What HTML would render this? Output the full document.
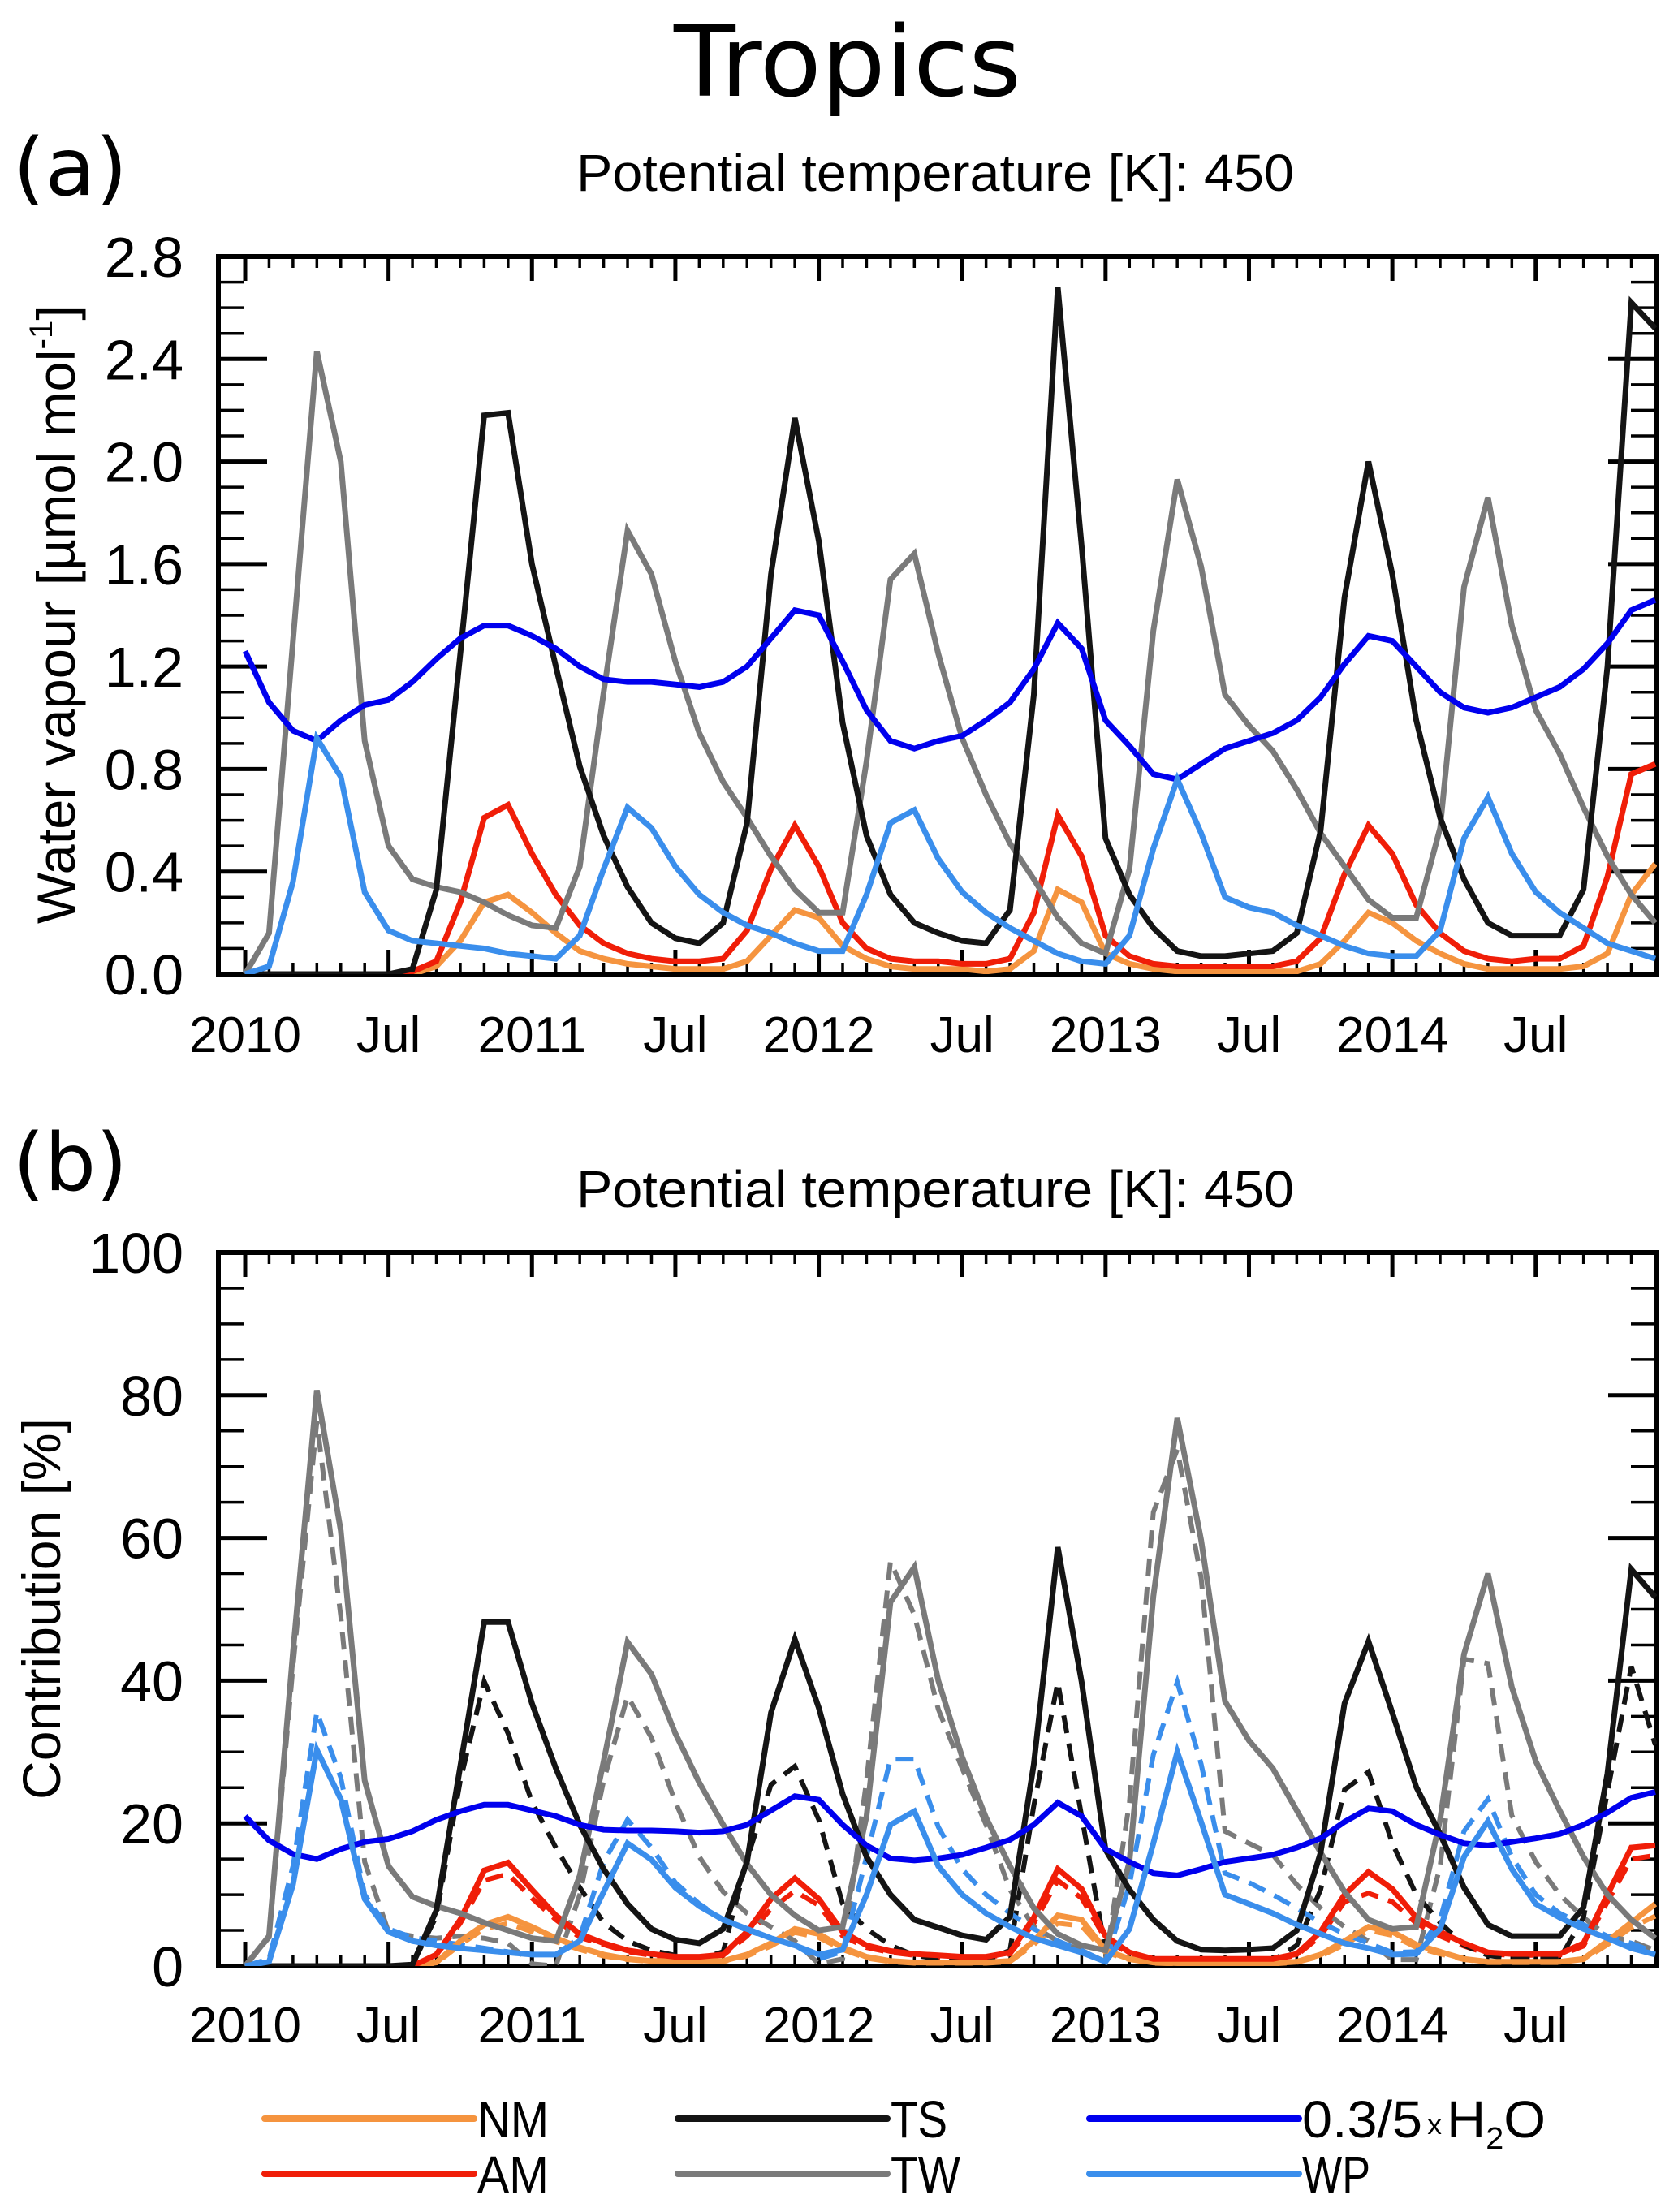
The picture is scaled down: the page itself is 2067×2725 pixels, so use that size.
<!DOCTYPE html>
<html><head><meta charset="utf-8"><title>Tropics</title>
<style>html,body{margin:0;padding:0;background:#fff}svg{display:block}text{font-family:"Liberation Sans",sans-serif;fill:#000}</style>
</head><body>
<svg id="fig" width="2067" height="2725" viewBox="0 0 2067 2725" xmlns="http://www.w3.org/2000/svg">
<defs>
<clipPath id="clipA"><rect x="269" y="316" width="1772" height="884"/></clipPath>
<clipPath id="clipB"><rect x="269" y="1543" width="1772" height="879"/></clipPath>
</defs>
<text x="1044" y="118" text-anchor="middle" font-size="120" textLength="428" lengthAdjust="spacingAndGlyphs" style="font-family:'DejaVu Sans',sans-serif">Tropics</text>
<text x="16" y="240" font-size="98" textLength="141" lengthAdjust="spacingAndGlyphs" style="font-family:'DejaVu Sans',sans-serif">(a)</text>
<text x="710" y="235" font-size="64" textLength="884" lengthAdjust="spacingAndGlyphs">Potential temperature [K]: 450</text>
<text x="16" y="1466" font-size="98" textLength="141" lengthAdjust="spacingAndGlyphs" style="font-family:'DejaVu Sans',sans-serif">(b)</text>
<text x="710" y="1487" font-size="64" textLength="884" lengthAdjust="spacingAndGlyphs">Potential temperature [K]: 450</text>
<text transform="translate(92,757) rotate(-90)" text-anchor="middle" font-size="66" textLength="762" lengthAdjust="spacingAndGlyphs">Water vapour [µmol mol<tspan font-size="40" dy="-28">-1</tspan><tspan dy="28">]</tspan></text>
<text transform="translate(74,1982) rotate(-90)" text-anchor="middle" font-size="66" textLength="470" lengthAdjust="spacingAndGlyphs">Contribution [%]</text>
<g id="gA"></g>
<g id="gB"></g>
<g id="legend"></g>
</svg>
<script>
// ---- data: monthly Jan 2010 .. Dec 2014 ----
const months = 60;
const yearLabels = ["2010","Jul","2011","Jul","2012","Jul","2013","Jul","2014","Jul"];
const yearLabelMonths = [0,6,12,18,24,30,36,42,48,54];
const ticksA = [0.0,0.4,0.8,1.2,1.6,2.0,2.4,2.8];
const tickLabelsA = ["0.0","0.4","0.8","1.2","1.6","2.0","2.4","2.8"];
const ticksB = [0,20,40,60,80,100];
const tickLabelsB = ["0","20","40","60","80","100"];

const nmA = [0,0,0,0,0,0,0,0,0.03,0.13,0.28,0.31,0.24,0.16,0.09,0.06,0.04,0.03,0.02,0.02,0.02,0.05,0.15,0.25,0.22,0.11,0.06,0.03,0.02,0.02,0.02,0.01,0.02,0.09,0.33,0.28,0.08,0.04,0.02,0.01,0.01,0.01,0.01,0.01,0.01,0.04,0.13,0.24,0.20,0.13,0.08,0.04,0.02,0.02,0.02,0.02,0.03,0.08,0.31,0.43];
const amA = [0,0,0,0,0,0,0,0.01,0.05,0.28,0.61,0.66,0.47,0.31,0.19,0.12,0.08,0.06,0.05,0.05,0.06,0.17,0.41,0.58,0.42,0.2,0.1,0.06,0.05,0.05,0.04,0.04,0.06,0.24,0.62,0.46,0.15,0.07,0.04,0.03,0.03,0.03,0.03,0.03,0.05,0.14,0.39,0.58,0.47,0.27,0.16,0.09,0.06,0.05,0.06,0.06,0.11,0.38,0.78,0.82];
const tsA = [0,0,0,0,0,0,0,0.02,0.33,1.25,2.18,2.19,1.6,1.2,0.81,0.54,0.34,0.2,0.14,0.12,0.2,0.59,1.56,2.17,1.69,0.98,0.54,0.31,0.2,0.16,0.13,0.12,0.25,1.09,2.68,1.67,0.53,0.31,0.18,0.09,0.07,0.07,0.08,0.09,0.16,0.56,1.47,2.0,1.56,0.99,0.61,0.37,0.2,0.15,0.15,0.15,0.33,1.2,2.62,2.52];
const twA = [0,0.16,1.3,2.43,2.0,0.91,0.5,0.37,0.34,0.32,0.28,0.23,0.19,0.18,0.42,1.1,1.73,1.56,1.22,0.94,0.75,0.61,0.46,0.33,0.24,0.24,0.83,1.54,1.64,1.25,0.92,0.7,0.51,0.37,0.22,0.12,0.08,0.41,1.34,1.93,1.59,1.09,0.97,0.87,0.72,0.55,0.42,0.29,0.22,0.22,0.57,1.51,1.86,1.36,1.03,0.86,0.65,0.46,0.31,0.2];
const wpA = [0,0.03,0.36,0.92,0.77,0.32,0.17,0.13,0.12,0.11,0.10,0.08,0.07,0.06,0.15,0.41,0.65,0.57,0.42,0.31,0.24,0.19,0.16,0.12,0.09,0.09,0.31,0.59,0.64,0.45,0.32,0.24,0.18,0.13,0.08,0.05,0.04,0.15,0.49,0.76,0.55,0.30,0.26,0.24,0.19,0.15,0.11,0.08,0.07,0.07,0.17,0.53,0.69,0.47,0.32,0.24,0.18,0.12,0.09,0.06];
const h2oA = [1.26,1.06,0.95,0.91,0.99,1.05,1.07,1.14,1.23,1.31,1.36,1.36,1.32,1.27,1.2,1.15,1.14,1.14,1.13,1.12,1.14,1.2,1.31,1.42,1.40,1.22,1.03,0.91,0.88,0.91,0.93,0.99,1.06,1.19,1.37,1.27,0.99,0.89,0.78,0.76,0.82,0.88,0.91,0.94,0.99,1.08,1.21,1.32,1.30,1.20,1.10,1.04,1.02,1.04,1.08,1.12,1.19,1.29,1.42,1.46];

const nmB = [0,0,0,0,0,0,0,0,0.5,3.5,5.8,6.9,5.5,3.9,2.6,1.6,1,0.7,0.7,0.7,0.7,1.6,3.2,5.2,4.5,2.6,1.3,0.7,0.5,0.5,0.5,0.5,0.7,3.5,7.1,6.5,2.2,1,0.5,0.4,0.4,0.4,0.4,0.4,0.6,1.6,3.5,5.5,4.8,3,2,1,0.6,0.6,0.6,0.6,1,3.5,6.1,8.7];
const nmBd = [0,0,0,0,0,0,0,0,0.4,3,5.2,6,4.8,3.4,2.3,1.4,0.9,0.6,0.6,0.6,0.6,1.4,2.8,4.7,4,2.3,1.1,0.6,0.4,0.4,0.4,0.4,0.6,3,6,5.6,1.9,0.9,0.4,0.3,0.3,0.3,0.3,0.3,0.5,1.4,3,5,4.3,2.6,1.7,0.9,0.5,0.5,0.5,0.5,0.9,3,5.4,7];
const amB = [0,0,0,0,0,0,0,0,1.6,6.5,13.4,14.5,10.7,7.1,4.5,3.2,2.2,1.7,1.3,1.3,1.6,4.8,9.4,12.3,9.4,4.8,2.9,2.1,1.7,1.5,1.3,1.3,1.9,6.8,13.6,10.8,4.2,1.9,1.0,1.0,1.0,1.0,1.0,1.0,1.7,4.8,10,13.2,10.8,6.8,4.8,3.2,1.9,1.7,1.7,1.7,3.2,10,16.6,16.9];
const amBd = [0,0,0,0,0,0,0,0,1.5,6,12,12.9,9.5,6.5,4,3,2,1.5,1.2,1.2,1.5,4.2,8,10.5,8.5,4.2,2.6,1.9,1.5,1.3,1.2,1.2,1.7,6,12,9.5,3.8,1.7,0.9,0.9,0.9,0.9,0.9,0.9,1.5,4.2,9,10.2,9,6,4.2,2.8,1.7,1.5,1.5,1.5,2.8,9,15,15.5];
const tsB = [0,0,0,0,0,0,0,0.2,7.8,28,48.2,48.2,36.8,27.7,19.8,13.6,8.7,5.2,3.7,3.2,5.2,14.6,35.5,45.8,36.2,24.1,15.3,10,6.5,5.4,4.3,3.7,6.9,28.3,58.7,39.8,16.3,10.7,6.5,3.5,2.3,2.2,2.3,2.5,5,15.9,36.8,45.5,35.5,25.1,18.5,11,5.8,4.2,4.2,4.2,8.2,27,55.6,51.7];
const tsBd = [0,0,0,0,0,0,0,0.2,7,26,39.9,32.6,23,16.6,11,6.1,3.5,2.2,1.5,1,2,15,25.4,28,20.5,8.7,5.2,2.9,1.5,1,0.8,0.8,2.2,22.5,39.8,21,2.2,1,0.6,0.5,0.5,0.5,0.5,0.8,2.9,10.7,24.7,27.2,17.2,10,6.1,2.9,1.5,1,1,1,6.8,24.4,42,31];
const twB = [0,4.2,44,80.7,61,26,14,9.7,8.4,7.4,6.1,5,3.9,3.5,12.7,28.7,45.4,40.9,32.6,25.7,19.8,14.3,10,7.1,5,5.5,21,51,55.9,40,29.3,20.8,14,8.1,4.5,2.9,2.2,14.6,51.8,76.8,59.7,37.1,31.6,27.7,21.8,15.9,10.4,6.5,5.2,5.5,20.5,43.7,55,39.1,28.7,21.8,15.3,10,6.5,3.9];
const twBd = [0,4,42,76.3,49,14.6,4.8,4.2,3.9,4.2,3.9,3.2,0.3,0,10,26,37.8,32,23,15.3,10.4,7.4,5.5,3.5,0.3,1,26,56.7,49.2,36,27.7,19.8,10.7,5.5,3.5,2.2,0.6,23,63.6,72.4,54.4,18.9,17.2,15.6,11.4,8.1,5.5,3.5,0.9,0.9,14,43,42.4,21.1,14.6,10,6.8,4.2,3.5,2.2];
const wpB = [0,0.6,11.4,30.3,23.4,9.4,4.8,3.5,2.9,2.5,2.2,1.9,1.6,1.6,3.5,10.4,17.2,14.9,11,8.4,6.5,5.2,3.9,2.9,1.6,2.3,10,19.8,21.7,14,10,7.4,5.5,3.9,2.9,1.9,0.6,5.2,17.2,30,20.2,10,8.7,7.4,5.8,4.5,3.2,2.5,1.6,1.7,5.2,15.3,20.3,13.6,8.7,6.8,5.2,3.9,2.5,1.6];
const wpBd = [0,1,14,35.6,26.4,10,5.2,4,3.5,3,2.5,2,1.6,1.6,4,14.6,20.5,16.6,11.7,8.7,6.5,5,3.9,2.9,1,2,15.3,29,29,19.5,13.6,10,7.4,5.2,3.5,2.2,0.6,11.4,29.6,39.8,28.3,13,11.7,10,8.1,6.1,4.5,3.2,1.9,2,6.5,18.9,23.4,15.3,10,7.4,5.8,4.2,3.2,1.9];
const h2oB = [21,17.6,15.7,15,16.4,17.4,17.8,18.9,20.5,21.7,22.6,22.6,21.8,21,19.8,19.1,19,19,18.9,18.7,18.9,19.8,21.8,23.8,23.3,19.8,16.9,15.1,14.8,15.1,15.6,16.6,17.7,19.8,22.9,21,16.4,14.6,13,12.7,13.6,14.6,15.1,15.6,16.6,17.9,20.2,22.1,21.7,19.8,18.4,17.2,16.9,17.4,17.9,18.5,19.8,21.5,23.6,24.4];

const C = {nm:"#f5943f", am:"#f01e08", ts:"#141414", tw:"#7a7a7a", wp:"#3a8eec", h2o:"#0000ee"};
const NS = "http://www.w3.org/2000/svg";
const L = 269, R = 2041;
function xm(m){ return 302 + m * 29.44; }
function yA(v){ return 1200 - v * (884 / 2.8); }
function yB(v){ return 2422 - v * (879 / 100); }
function mk(tag, attrs, parent){
  const e = document.createElementNS(NS, tag);
  for (const k in attrs) e.setAttribute(k, attrs[k]);
  parent.appendChild(e); return e;
}

function axes(g, top, bottom, yf, ticks, labels, minorStep, maxV, baseLbl, pname){
  // frame
  const fr = mk("rect", {x:L, y:top, width:R-L, height:bottom-top, fill:"none", stroke:"#000", "stroke-width":6}, g);
  
  
  // y ticks
  for (let v = 0; v <= maxV + 1e-9; v += minorStep){
    const y = yf(v);
    const major = ticks.some(t => Math.abs(t - v) < 1e-6);
    const len = major ? 60 : 32;
    const t1 = mk("line", {x1:L, x2:L+len, y1:y, y2:y, stroke:"#000", "stroke-width":major?5:3.5}, g);
    
    
    const t2 = mk("line", {x1:R, x2:R-len, y1:y, y2:y, stroke:"#000", "stroke-width":major?5:3.5}, g);
    
    
  }
  ticks.forEach((v, i) => {
    const t = mk("text", {x:226, y:yf(v)+25, "text-anchor":"end", "font-size":70}, g);
    t.textContent = labels[i];
    
    
  });
  // x ticks
  for (let m = 0; m < months; m++){
    const x = xm(m);
    const major = (m % 6 === 0);
    const len = major ? 30 : 14;
    const b1 = mk("line", {x1:x, x2:x, y1:bottom, y2:bottom-len, stroke:"#000", "stroke-width":major?5:3.5}, g);
    
    
    const b2 = mk("line", {x1:x, x2:x, y1:top, y2:top+len, stroke:"#000", "stroke-width":major?5:3.5}, g);
    
    
  }
  yearLabelMonths.forEach((m, i) => {
    const t = mk("text", {x:xm(m), y:baseLbl, "text-anchor":"middle", "font-size":62}, g);
    t.textContent = yearLabels[i];
    
    
  });
}

function series(g, vals, yf, color, dashed, clip, name){
  const pts = vals.map((v, m) => xm(m).toFixed(1) + "," + yf(v).toFixed(1)).join(" ");
  const p = mk("polyline", {points:pts, fill:"none", stroke:color, "stroke-width":dashed?6:7, "stroke-linejoin":"miter", "clip-path":"url(#" + clip + ")"}, g);
  if (dashed) p.setAttribute("stroke-dasharray", "22 13");
  
  
}

const gA = document.getElementById("gA");
axes(gA, 316, 1200, yA, ticksA, tickLabelsA, 0.1, 2.8, 1296, "panel-a");
series(gA, nmA, yA, C.nm, false, "clipA", "line-nm-a");
series(gA, amA, yA, C.am, false, "clipA", "line-am-a");
series(gA, twA, yA, C.tw, false, "clipA", "line-tw-a");
series(gA, tsA, yA, C.ts, false, "clipA", "line-ts-a");
series(gA, h2oA, yA, C.h2o, false, "clipA", "line-h2o-a");
series(gA, wpA, yA, C.wp, false, "clipA", "line-wp-a");

const gB = document.getElementById("gB");
axes(gB, 1543, 2422, yB, ticksB, tickLabelsB, 5, 100, 2516, "panel-b");
series(gB, nmBd, yB, C.nm, true, "clipB", "line-nm-b-dashed");
series(gB, amBd, yB, C.am, true, "clipB", "line-am-b-dashed");
series(gB, twBd, yB, C.tw, true, "clipB", "line-tw-b-dashed");
series(gB, tsBd, yB, C.ts, true, "clipB", "line-ts-b-dashed");
series(gB, wpBd, yB, C.wp, true, "clipB", "line-wp-b-dashed");
series(gB, nmB, yB, C.nm, false, "clipB", "line-nm-b");
series(gB, amB, yB, C.am, false, "clipB", "line-am-b");
series(gB, twB, yB, C.tw, false, "clipB", "line-tw-b");
series(gB, tsB, yB, C.ts, false, "clipB", "line-ts-b");
series(gB, h2oB, yB, C.h2o, false, "clipB", "line-h2o-b");
series(gB, wpB, yB, C.wp, false, "clipB", "line-wp-b");

// legend
const lg = document.getElementById("legend");
const legItems = [
  {lab:"NM", c:C.nm, x:326, y:2610, n:"legend-entry-nm"},
  {lab:"AM", c:C.am, x:326, y:2678, n:"legend-entry-am"},
  {lab:"TS", c:C.ts, x:835, y:2610, n:"legend-entry-ts"},
  {lab:"TW", c:C.tw, x:835, y:2678, n:"legend-entry-tw"},
  {lab:"H2O", c:C.h2o, x:1342, y:2610, n:"legend-entry-h2o"},
  {lab:"WP", c:C.wp, x:1342, y:2678, n:"legend-entry-wp"}
];
legItems.forEach(it => {
  const g = mk("g", {}, lg);
  
  
  mk("line", {x1:it.x, x2:it.x+258, y1:it.y, y2:it.y, stroke:it.c, "stroke-width":8, "stroke-linecap":"round"}, g);
  const t = mk("text", {x:it.x+262, y:it.y+23, "font-size":64}, g);
  if (it.lab === "H2O"){
    t.innerHTML = '0.3/5<tspan font-size="34" dx="6" dy="-4">x</tspan><tspan dx="6" dy="4">H</tspan><tspan font-size="38" dy="14">2</tspan><tspan dy="-14">O</tspan>';
    t.setAttribute("textLength", "300");
  } else {
    t.textContent = it.lab;
  }
  t.setAttribute("lengthAdjust", "spacingAndGlyphs");
  if (it.lab === "NM" || it.lab === "AM") t.setAttribute("textLength", "88");
  if (it.lab === "TS") t.setAttribute("textLength", "70");
  if (it.lab === "TW") t.setAttribute("textLength", "86");
  if (it.lab === "WP") t.setAttribute("textLength", "84");
});
</script>
</body></html>
